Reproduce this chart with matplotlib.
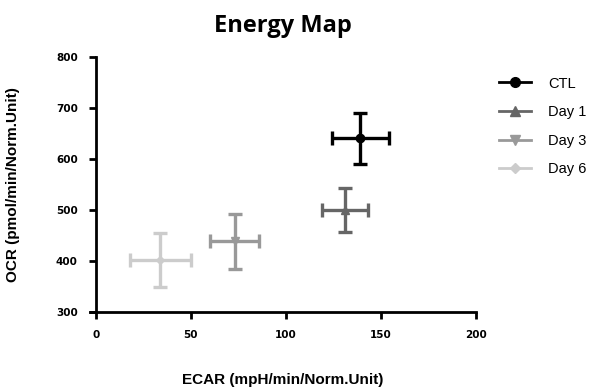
import matplotlib.pyplot as plt
from matplotlib.lines import Line2D

groups = ['CTL', 'Day 1', 'Day 3', 'Day 6']
ecar = [139, 131, 73, 34]
ecar_err = [15, 12, 13, 16]
ocr = [641, 500, 439, 402]
ocr_err = [50, 44, 54, 52]

colors = ['#000000', '#666666', '#999999', '#cccccc']
markers = ['o', '^', 'v', 'D']
msizes = [6, 6, 6, 4]

plt.rcParams['font.family'] = ['Liberation Sans', 'DejaVu Sans']

fig = plt.figure(figsize=(6.01, 3.91), dpi=100)
ax = fig.add_axes([0.15, 0.202, 0.642, 0.652])

handles = []
for g, x, xe, y, ye, c, m, ms in zip(groups, ecar, ecar_err, ocr, ocr_err, colors, markers, msizes):
    ax.errorbar(x, y, xerr=xe, yerr=ye, fmt=m, color=c, ms=ms, elinewidth=2.4,
                capsize=5, capthick=2.4)
    handles.append(Line2D([], [], color=c, marker=m, ms=ms + 1, lw=2, label=g))

ax.set_xlim(-3, 200)
ax.set_ylim(300, 800)
ax.set_xticks([0, 50, 100, 150, 200])
ax.set_yticks([300, 400, 500, 600, 700, 800])
ax.spines['left'].set_position(('data', 0))
ax.spines['right'].set_visible(False)
ax.spines['top'].set_visible(False)
for s in ['left', 'bottom']:
    ax.spines[s].set_linewidth(2)
ax.tick_params(width=2, length=5, labelsize=7.5, pad=8)
for lab in ax.get_xticklabels() + ax.get_yticklabels():
    lab.set_fontweight('bold')
    lab.set_family('DejaVu Sans')

ax.set_title('Energy Map', fontsize=17, fontweight='bold', pad=18, family='Open Sans')
ax.set_xlabel('ECAR (mpH/min/Norm.Unit)', fontsize=11, fontweight='bold', labelpad=24)
ax.set_ylabel('OCR (pmol/min/Norm.Unit)', fontsize=11, fontweight='bold', labelpad=26)

ax.legend(handles=handles, loc='upper left', bbox_to_anchor=(1.025, 0.975), frameon=False,
          fontsize=10.5, handlelength=2.2, labelspacing=1.0, handletextpad=1.2)

fig.savefig('out.png', dpi=100)
